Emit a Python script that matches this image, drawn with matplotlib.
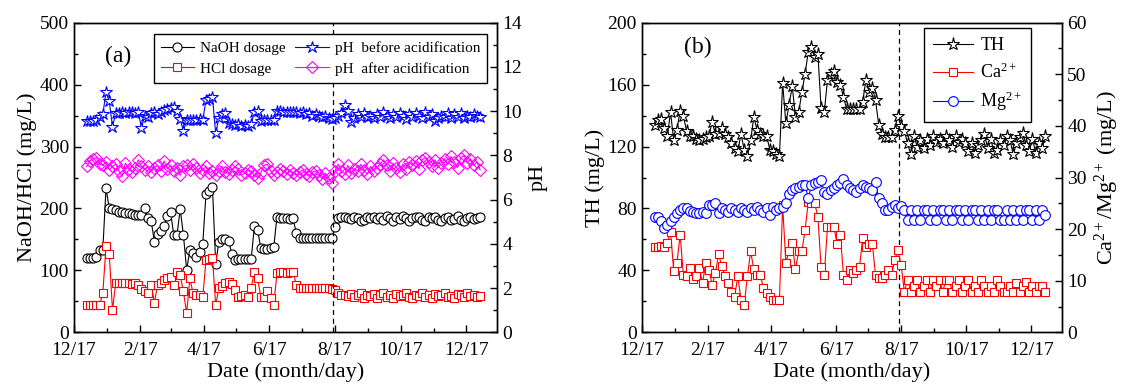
import numpy as np
import pandas as pd
import matplotlib
matplotlib.use('Agg')
import matplotlib.pyplot as plt
import matplotlib.dates as mdates
from matplotlib.ticker import MultipleLocator, FuncFormatter

plt.rcParams['font.family'] = ['Liberation Serif', 'DejaVu Serif']
plt.rcParams['mathtext.fontset'] = 'custom'
plt.rcParams['mathtext.rm'] = 'Liberation Serif'
plt.rcParams['mathtext.it'] = 'Liberation Serif:italic'

# samples every 3 days, 12/29 .. 12/31 of the following year
dates = pd.date_range('2017-12-29', periods=123, freq='3D')
x_start, x_end = pd.Timestamp('2017-12-17'), pd.Timestamp('2019-01-15')
split_date = pd.Timestamp('2018-08-15')

# (a) dosages, mg/L
naoh = [120, 120, 120, 121, 133, 133, 233, 200, 199, 197,
        195, 194, 193, 192, 191, 190, 190, 189, 200, 185,
        180, 146, 158, 163, 171, 188, 195, 157, 157, 199,
        157, 101, 133, 128, 122, 130, 143, 224, 229, 235,
        111, 146, 151, 150, 148, 127, 117, 118, 119, 119,
        119, 118, 171, 165, 136, 135, 135, 136, 137, 187,
        185, 184, 184, 183, 184, 160, 153, 152, 152, 152,
        152, 153, 152, 152, 152, 152, 152, 170, 184, 187,
        186, 184, 183, 187, 185, 180, 182, 186, 184, 187,
        183, 186, 181, 188, 185, 180, 186, 183, 188, 185,
        180, 184, 187, 186, 182, 180, 186, 184, 187, 182,
        180, 185, 187, 181, 183, 188, 182, 180, 184, 186,
        183, 185, 187]
hcl = [44, 44, 44, 44, 44, 63, 139, 127, 36, 79,
       79, 80, 79, 79, 78, 80, 77, 70, 66, 63,
       77, 48, 77, 79, 84, 88, 90, 77, 98, 92,
       66, 31, 87, 63, 60, 60, 57, 117, 118, 120,
       44, 71, 74, 79, 82, 78, 68, 57, 58, 60,
       57, 71, 98, 87, 57, 57, 66, 55, 44, 95,
       97, 97, 96, 97, 97, 77, 72, 71, 71, 71,
       71, 71, 71, 71, 71, 71, 70, 68, 64, 60,
       61, 58, 62, 57, 60, 63, 56, 60, 58, 62,
       55, 60, 63, 57, 60, 56, 62, 58, 60, 63,
       57, 55, 61, 59, 63, 57, 60, 56, 62, 58,
       60, 63, 57, 59, 55, 62, 60, 57, 63, 58,
       61, 57, 58]
ph_before = [9.55, 9.55, 9.55, 9.6, 9.75, 9.85, 10.85, 10.45, 9.3, 9.9,
             9.92, 9.95, 9.92, 9.95, 9.95, 9.92, 9.95, 9.25, 9.8, 9.75,
             9.9, 9.95, 9.85, 9.98, 10.05, 10.1, 10.15, 10.2, 10.0, 9.65,
             9.1, 9.6, 9.6, 9.62, 9.6, 9.65, 9.6, 10.5, 10.55, 10.65,
             9.0, 9.7, 9.85, 9.9, 9.45, 9.4, 9.38, 9.4, 9.35, 9.38,
             9.35, 9.4, 9.98, 10.0, 9.55, 9.6, 9.62, 9.58, 9.6, 10.0,
             10.0, 9.98, 9.98, 9.97, 9.98, 9.95, 9.9, 9.95, 9.85, 9.9,
             9.8, 9.85, 9.8, 9.75, 9.8, 9.7, 9.65, 9.7, 9.8, 9.9,
             10.3, 10.0, 9.5, 9.7, 9.85, 9.75, 9.9, 9.75, 9.8, 9.7,
             9.85, 9.75, 9.95, 9.8, 9.7, 9.85, 9.75, 9.9, 9.8, 9.65,
             9.85, 9.75, 9.9, 9.8, 9.7, 9.95, 9.75, 9.85, 9.55, 9.7,
             9.8, 9.75, 9.9, 9.7, 9.85, 9.75, 9.9, 9.7, 9.8, 9.75,
             9.85, 9.8, 9.75]
ph_after = [7.5, 7.75, 7.85, 7.9, 7.6, 7.55, 7.7, 7.35, 7.5, 7.6,
            7.3, 7.05, 7.65, 7.4, 7.25, 7.45, 7.8, 7.5, 7.35, 7.5,
            7.25, 7.45, 7.55, 7.3, 7.75, 7.4, 7.55, 7.3, 7.45, 7.1,
            7.5, 7.55, 7.35, 7.6, 7.45, 7.2, 7.35, 7.5, 7.2, 7.3,
            7.1, 7.3, 7.5, 7.25, 7.15, 7.35, 7.5, 7.4, 7.1, 7.2,
            7.35, 7.3, 7.1, 7.0, 7.2, 7.55, 7.6, 7.3, 7.1, 7.25,
            7.4, 7.3, 7.15, 7.35, 7.2, 7.1, 7.25, 7.35, 7.15, 7.05,
            7.25, 7.3, 7.1, 6.95, 7.2, 7.0, 6.75, 7.3, 7.6, 7.3,
            7.15, 7.55, 7.2, 7.4, 7.3, 7.6, 7.35, 7.15, 7.5, 7.3,
            7.45, 7.6, 7.8, 7.55, 7.3, 7.65, 7.45, 7.25, 7.6, 7.4,
            7.7, 7.55, 7.75, 7.4, 7.8, 7.9, 7.7, 7.5, 7.8, 7.45,
            7.65, 7.85, 7.6, 7.95, 7.7, 7.45, 7.9, 8.0, 7.65, 7.85,
            7.55, 7.7, 7.35]

# (b) hardness, mg/L
th = [134, 137, 138, 132, 127, 142, 124, 131, 143, 140,
      130, 127, 127, 125, 124, 125, 126, 127, 136, 128,
      129, 132, 128, 126, 122, 119, 117, 128, 118, 114,
      124, 139, 131, 128, 127, 127, 118, 117, 115, 114,
      161, 135, 147, 159, 139, 142, 155, 167, 181, 184,
      178, 180, 145, 142, 163, 167, 169, 162, 160, 152,
      144, 144, 144, 144, 144, 149, 163, 155, 158, 150,
      134, 128, 126, 126, 126, 131, 140, 133, 130, 122,
      115, 127, 120, 124, 119, 125, 121, 127, 123, 125,
      122, 127, 124, 120, 127, 123, 125, 122, 117, 122,
      116, 121, 124, 128, 119, 125, 116, 118, 124, 121,
      127, 124, 115, 122, 126, 129, 121, 117, 125, 116,
      122, 119, 127]
ca = [16.6, 16.6, 16.8, 16.6, 17.3, 19.5, 11.9, 13.5, 18.9, 11.2,
      10.9, 12.5, 10.3, 10.9, 12.5, 9.5, 13.5, 12.0, 9.2, 11.5,
      15.1, 12.8, 10.9, 9.5, 7.9, 6.9, 10.9, 6.3, 5.3, 10.9,
      15.7, 12.2, 11.2, 11.2, 8.6, 7.6, 6.9, 6.3, 6.3, 6.3,
      24.6, 13.5, 15.7, 17.3, 12.2, 15.7, 15.7, 19.8, 25.3, 25.0,
      25.0, 22.4, 12.7, 11.1, 20.4, 20.4, 20.4, 17.2, 18.9, 11.1,
      10.1, 12.1, 11.5, 12.1, 12.7, 18.2, 16.6, 17.2, 17.2, 11.1,
      10.5, 10.5, 11.2, 12.1, 11.1, 14.0, 15.9, 13.0, 7.9, 10.2,
      7.9, 8.9, 10.2, 7.9, 8.9, 10.2, 7.9, 10.2, 8.9, 10.2,
      7.9, 10.2, 10.2, 7.9, 8.9, 10.2, 7.9, 8.9, 10.2, 7.9,
      8.9, 7.9, 10.2, 8.9, 7.9, 8.9, 7.9, 10.2, 8.9, 7.9,
      7.9, 8.9, 7.9, 9.5, 7.9, 8.9, 9.8, 7.9, 8.9, 7.9,
      8.9, 8.9, 7.9]
mg = [22.4, 22.4, 21.5, 20.2, 20.8, 21.5, 22.4, 23.1, 23.7, 24.0,
      24.0, 23.6, 23.4, 23.1, 23.1, 23.4, 23.1, 24.7, 24.7, 25.0,
      23.1, 24.0, 23.7, 23.4, 24.0, 23.7, 23.4, 24.0, 23.7, 23.4,
      24.0, 23.7, 24.3, 23.7, 23.4, 24.0, 22.7, 24.3, 23.7, 24.0,
      24.3, 25.0, 26.9, 27.6, 27.9, 28.2, 28.5, 28.5, 26.0, 28.5,
      28.9, 29.2, 29.5, 27.2, 26.9, 27.5, 27.9, 28.5, 28.9, 29.8,
      28.5, 27.9, 27.6, 27.2, 27.9, 28.5, 28.2, 27.9, 27.6, 29.2,
      26.0, 25.0, 23.7, 23.7, 24.3, 24.7, 24.0, 24.4, 23.7, 21.8,
      23.7, 21.8, 23.7, 21.8, 23.7, 23.7, 21.8, 23.7, 21.8, 23.7,
      23.7, 21.8, 23.7, 21.8, 23.7, 23.7, 21.8, 23.7, 21.8, 23.7,
      23.7, 21.8, 23.7, 21.8, 23.7, 21.8, 23.7, 23.7, 21.8, 21.8,
      23.7, 21.8, 23.7, 21.8, 23.7, 21.8, 23.7, 23.7, 21.8, 23.7,
      21.8, 23.7, 22.7]


def month_day(v, pos):
    d = mdates.num2date(v)
    return f'{d.month}/{d.day}'


def style_axes(ax, twin):
    ax.set_xlim(x_start, x_end)
    ax.xaxis.set_major_locator(mdates.MonthLocator(bymonth=[2, 4, 6, 8, 10, 12], bymonthday=17))
    ax.xaxis.set_minor_locator(mdates.MonthLocator(bymonth=[1, 3, 5, 7, 9, 11], bymonthday=17))
    ax.xaxis.set_major_formatter(FuncFormatter(month_day))
    for a in (ax, twin):
        a.tick_params(which='both', direction='in', width=1.0, labelsize=14)
        a.tick_params(which='major', length=5)
        a.tick_params(which='minor', length=3)
        for s in a.spines.values():
            s.set_linewidth(1.0)
    ax.tick_params(axis='x', pad=7)
    ax.tick_params(axis='y', right=False)
    ax.set_xlabel('Date (month/day)', fontsize=16, labelpad=2)
    ax.axvline(split_date, color='black', lw=0.9, ls=(0, (4, 3)))


fig = plt.figure(figsize=(11.28, 3.9), dpi=100)

# ---- panel (a)
ax1 = fig.add_axes([0.0654, 0.1479, 0.3755, 0.7939])
ax2 = ax1.twinx()
l1, = ax1.plot(dates, naoh, '-o', color='black', lw=0.8, ms=6.5, mfc='white', mew=0.8, label='NaOH dosage')
l2, = ax1.plot(dates, hcl, '-s', color='red', lw=0.8, ms=5.5, mfc='white', mew=0.8, label='HCl dosage')
l3, = ax2.plot(dates, ph_before, '-*', color='blue', lw=0.8, ms=9, mfc='white', mew=0.8, label='pH  before acidification')
l4, = ax2.plot(dates, ph_after, '-D', color='magenta', lw=0.8, ms=6.3, mfc='none', mew=0.8, label='pH  after acidification')
ax1.set_ylim(0, 500)
ax1.yaxis.set_major_locator(MultipleLocator(100))
ax1.yaxis.set_minor_locator(MultipleLocator(50))
ax2.set_ylim(0, 14)
ax2.yaxis.set_major_locator(MultipleLocator(2))
ax2.yaxis.set_minor_locator(MultipleLocator(1))
ax1.set_ylabel('NaOH/HCl (mg/L)', fontsize=16, labelpad=2)
ax2.set_ylabel('pH', fontsize=16, labelpad=5)
style_axes(ax1, ax2)
ax1.text(0.105, 0.89, '(a)', transform=ax1.transAxes, fontsize=17, ha='center', va='center')
leg = ax2.legend([l1, l2, l3, l4], [l.get_label() for l in (l1, l2, l3, l4)], ncol=2,
                 loc='upper right', bbox_to_anchor=(0.976, 0.962), borderaxespad=0,
                 fontsize=11, fancybox=False, edgecolor='black', framealpha=1,
                 handlelength=2.2, columnspacing=0.6, borderpad=0.45, labelspacing=0.45,
                 handletextpad=0.4)
leg.get_frame().set_linewidth(1.0)

# ---- panel (b)
ax3 = fig.add_axes([0.5689, 0.1479, 0.3729, 0.7939])
ax4 = ax3.twinx()
m1, = ax3.plot(dates, th, '-*', color='black', lw=0.8, ms=9.5, mfc='white', mew=0.8, label='TH')
m2, = ax4.plot(dates, ca, '-s', color='red', lw=0.8, ms=6, mfc='white', mew=0.8, label='Ca$^{2+}$')
m3, = ax4.plot(dates, mg, '-o', color='blue', lw=0.8, ms=7, mfc='white', mew=0.8, label='Mg$^{2+}$')
ax3.set_ylim(0, 200)
ax3.yaxis.set_major_locator(MultipleLocator(40))
ax3.yaxis.set_minor_locator(MultipleLocator(20))
ax4.set_ylim(0, 60)
ax4.yaxis.set_major_locator(MultipleLocator(10))
ax4.yaxis.set_minor_locator(MultipleLocator(5))
ax3.set_ylabel('TH (mg/L)', fontsize=16, labelpad=2)
ax4.set_ylabel('Ca$^{2+}$/Mg$^{2+}$ (mg/L)', fontsize=16, labelpad=4)
style_axes(ax3, ax4)
ax3.text(0.134, 0.921, '(b)', transform=ax3.transAxes, fontsize=17, ha='center', va='center')
leg2 = ax4.legend([m1, m2, m3], ['TH', 'Ca$^{2+}$', 'Mg$^{2+}$'], loc='upper right',
                  bbox_to_anchor=(0.9256, 0.982), borderaxespad=0, fontsize=13,
                  fancybox=False, edgecolor='black', framealpha=1, handlelength=2.2,
                  labelspacing=0.45, borderpad=0.5, handletextpad=0.4)
leg2.get_frame().set_linewidth(1.0)

fig.savefig('out.png', dpi=100)
